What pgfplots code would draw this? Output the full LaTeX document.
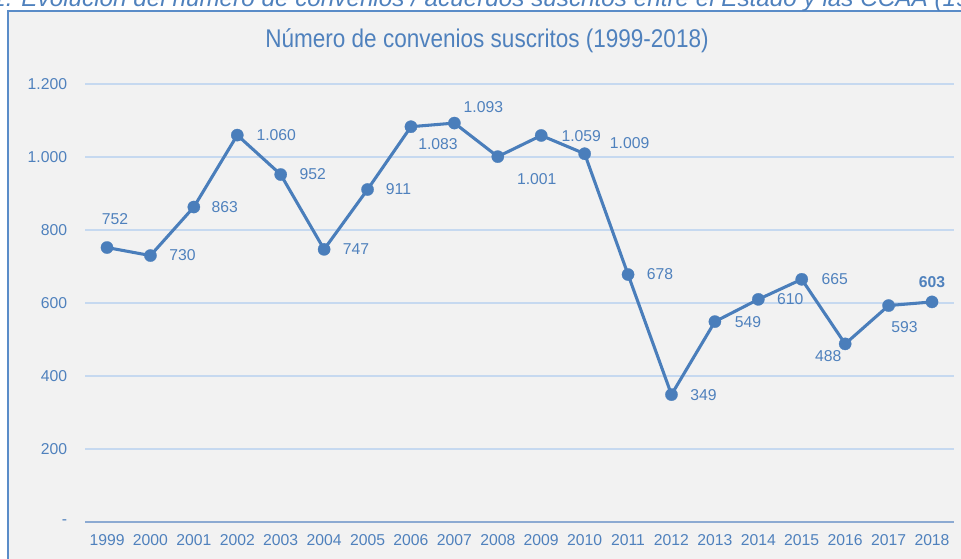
\documentclass[border=0pt]{standalone}
\usepackage{fontspec}
\setmainfont{Liberation Sans}
\newfontfamily\titlefont[FakeStretch=0.88]{Liberation Sans}
\usepackage{pgfplots}
\pgfplotsset{compat=1.18}
\definecolor{txt}{RGB}{79,129,189}
\definecolor{ln}{RGB}{74,126,187}
\definecolor{grd}{RGB}{198,217,240}
\definecolor{axc}{RGB}{140,170,210}
\definecolor{bg}{RGB}{242,242,242}
\definecolor{frm}{RGB}{90,140,200}
\begin{document}
\begin{tikzpicture}
\useasboundingbox (0pt,0pt) rectangle (720.75pt,-418.5pt);
\fill[white] (0pt,0pt) rectangle (720.75pt,-418.5pt);
\filldraw[fill=bg,draw=frm,line width=1.1pt] (6pt,-8.25pt) rectangle (740pt,-440pt);
\node[anchor=base west,inner sep=0pt,text=txt,font=\fontsize{18.2}{20}\selectfont\itshape] at (-6pt,-4.5pt)
  {1. Evolución del número de convenios / acuerdos suscritos entre el Estado y las CCAA (1999-2018)};
\node[text=txt,font=\titlefont\fontsize{19.2}{21}\selectfont,inner sep=0pt] at (365.25pt,-30.5pt)
  {Número de convenios suscritos (1999-2018)};
\begin{axis}[
  at={(63.98pt,-391.5pt)}, anchor=south west,
  scale only axis, width=651.3pt, height=328.5pt,
  xmin=-0.5, xmax=19.5, ymin=0, ymax=1200,
  axis lines*=left,
  x axis line style={draw=axc,line width=0.9pt,-},
  y axis line style={draw=none},
  major tick length=0pt,
  xtick={0,...,19},
  xticklabels={1999,2000,2001,2002,2003,2004,2005,2006,2007,2008,2009,2010,2011,2012,2013,2014,2015,2016,2017,2018},
  ytick={0,200,400,600,800,1000,1200},
  yticklabels={{-\hspace{9.5pt}},200,400,600,800,{1.000},{1.200}},
  /pgf/number format/assume math mode=true,
  ymajorgrids, grid style={draw=grd,line width=0.8pt},
  tick label style={text=txt,font=\fontsize{11.8}{13}\selectfont,inner sep=0pt},
  xticklabel style={anchor=center,yshift=-13.5pt},
  yticklabel style={anchor=east,xshift=-13.5pt},
  clip=false,
]
\addplot[color=ln,line width=2.3pt,mark=*,mark size=4.6pt,mark options={solid,fill=ln,draw=ln,line width=0.2pt}]
  coordinates {(0,752)(1,730)(2,863)(3,1060)(4,952)(5,747)(6,911)(7,1083)(8,1093)(9,1001)
  (10,1059)(11,1009)(12,678)(13,349)(14,549)(15,610)(16,665)(17,488)(18,593)(19,603)};
\tikzset{dl/.style={text=txt,font=\fontsize{11.8}{13}\selectfont,inner sep=0pt}}
\node[dl,xshift=6pt,yshift=21pt] at (axis cs:0,752) {752};
\node[dl,xshift=24pt] at (axis cs:1,730) {730};
\node[dl,xshift=23.25pt] at (axis cs:2,863) {863};
\node[dl,xshift=29.25pt] at (axis cs:3,1060) {1.060};
\node[dl,xshift=24pt] at (axis cs:4,952) {952};
\node[dl,xshift=24pt] at (axis cs:5,747) {747};
\node[dl,xshift=23.25pt] at (axis cs:6,911) {911};
\node[dl,xshift=20.25pt,yshift=-12.75pt] at (axis cs:7,1083) {1.083};
\node[dl,xshift=21.75pt,yshift=12pt] at (axis cs:8,1093) {1.093};
\node[dl,xshift=29.25pt,yshift=-16.5pt] at (axis cs:9,1001) {1.001};
\node[dl,xshift=30pt,yshift=-0.75pt] at (axis cs:10,1059) {1.059};
\node[dl,xshift=33.75pt,yshift=8.25pt] at (axis cs:11,1009) {1.009};
\node[dl,xshift=24pt] at (axis cs:12,678) {678};
\node[dl,xshift=24pt] at (axis cs:13,349) {349};
\node[dl,xshift=24.75pt] at (axis cs:14,549) {549};
\node[dl,xshift=24pt] at (axis cs:15,610) {610};
\node[dl,xshift=24.75pt] at (axis cs:16,665) {665};
\node[dl,xshift=-12.75pt,yshift=-9pt] at (axis cs:17,488) {488};
\node[dl,xshift=12pt,yshift=-16.5pt] at (axis cs:18,593) {593};
\node[dl,xshift=0pt,yshift=15pt,font=\fontsize{11.8}{13}\selectfont\bfseries] at (axis cs:19,603) {603};
\end{axis}
\end{tikzpicture}
\end{document}
